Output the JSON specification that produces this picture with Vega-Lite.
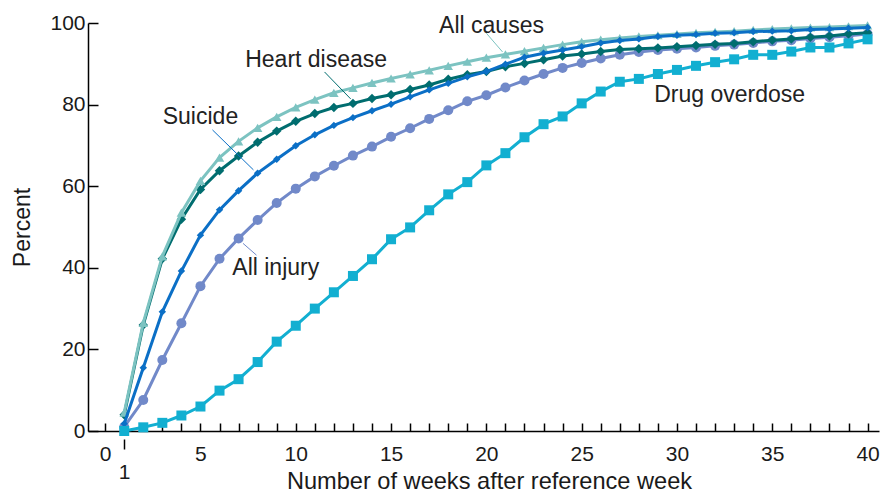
{
"$schema":"https://vega.github.io/schema/vega-lite/v6.json",
"autosize":{"type":"none"},
"padding":{"left":88,"top":23,"right":5,"bottom":64},
"width":791,"height":408,
"background":"white",
"config":{"view":{"stroke":null},"font":"Liberation Sans","axis":{"grid":false,"labelFont":"Liberation Sans","titleFont":"Liberation Sans","labelColor":"#1a1a1a","titleColor":"#1a1a1a","titleFontWeight":"normal","domainColor":"#000000","tickColor":"#000000","domainWidth":1.5,"tickWidth":1.5}},
"datasets":{
"series":[
{"cause":"All causes","week":1,"pct":4.5},{"cause":"All causes","week":2,"pct":26.5},{"cause":"All causes","week":3,"pct":42.8},{"cause":"All causes","week":4,"pct":53.5},{"cause":"All causes","week":5,"pct":61.3},{"cause":"All causes","week":6,"pct":67.0},{"cause":"All causes","week":7,"pct":71.0},{"cause":"All causes","week":8,"pct":74.3},{"cause":"All causes","week":9,"pct":77.0},{"cause":"All causes","week":10,"pct":79.3},{"cause":"All causes","week":11,"pct":81.2},{"cause":"All causes","week":12,"pct":82.9},{"cause":"All causes","week":13,"pct":84.1},{"cause":"All causes","week":14,"pct":85.3},{"cause":"All causes","week":15,"pct":86.4},{"cause":"All causes","week":16,"pct":87.4},{"cause":"All causes","week":17,"pct":88.4},{"cause":"All causes","week":18,"pct":89.5},{"cause":"All causes","week":19,"pct":90.5},{"cause":"All causes","week":20,"pct":91.5},{"cause":"All causes","week":21,"pct":92.3},{"cause":"All causes","week":22,"pct":93.1},{"cause":"All causes","week":23,"pct":93.9},{"cause":"All causes","week":24,"pct":94.7},{"cause":"All causes","week":25,"pct":95.4},{"cause":"All causes","week":26,"pct":95.9},{"cause":"All causes","week":27,"pct":96.3},{"cause":"All causes","week":28,"pct":96.7},{"cause":"All causes","week":29,"pct":97.0},{"cause":"All causes","week":30,"pct":97.3},{"cause":"All causes","week":31,"pct":97.6},{"cause":"All causes","week":32,"pct":97.8},{"cause":"All causes","week":33,"pct":98.0},{"cause":"All causes","week":34,"pct":98.3},{"cause":"All causes","week":35,"pct":98.5},{"cause":"All causes","week":36,"pct":98.7},{"cause":"All causes","week":37,"pct":98.9},{"cause":"All causes","week":38,"pct":99.0},{"cause":"All causes","week":39,"pct":99.2},{"cause":"All causes","week":40,"pct":99.4},
{"cause":"Heart disease","week":1,"pct":4.0},{"cause":"Heart disease","week":2,"pct":26.0},{"cause":"Heart disease","week":3,"pct":42.2},{"cause":"Heart disease","week":4,"pct":51.9},{"cause":"Heart disease","week":5,"pct":59.2},{"cause":"Heart disease","week":6,"pct":63.8},{"cause":"Heart disease","week":7,"pct":67.4},{"cause":"Heart disease","week":8,"pct":70.8},{"cause":"Heart disease","week":9,"pct":73.5},{"cause":"Heart disease","week":10,"pct":75.9},{"cause":"Heart disease","week":11,"pct":77.8},{"cause":"Heart disease","week":12,"pct":79.3},{"cause":"Heart disease","week":13,"pct":80.3},{"cause":"Heart disease","week":14,"pct":81.5},{"cause":"Heart disease","week":15,"pct":82.4},{"cause":"Heart disease","week":16,"pct":83.7},{"cause":"Heart disease","week":17,"pct":84.8},{"cause":"Heart disease","week":18,"pct":86.2},{"cause":"Heart disease","week":19,"pct":87.3},{"cause":"Heart disease","week":20,"pct":88.1},{"cause":"Heart disease","week":21,"pct":89.3},{"cause":"Heart disease","week":22,"pct":90.1},{"cause":"Heart disease","week":23,"pct":91.0},{"cause":"Heart disease","week":24,"pct":91.9},{"cause":"Heart disease","week":25,"pct":92.4},{"cause":"Heart disease","week":26,"pct":93.0},{"cause":"Heart disease","week":27,"pct":93.5},{"cause":"Heart disease","week":28,"pct":93.7},{"cause":"Heart disease","week":29,"pct":93.9},{"cause":"Heart disease","week":30,"pct":94.2},{"cause":"Heart disease","week":31,"pct":94.5},{"cause":"Heart disease","week":32,"pct":94.8},{"cause":"Heart disease","week":33,"pct":95.0},{"cause":"Heart disease","week":34,"pct":95.4},{"cause":"Heart disease","week":35,"pct":95.8},{"cause":"Heart disease","week":36,"pct":96.1},{"cause":"Heart disease","week":37,"pct":96.5},{"cause":"Heart disease","week":38,"pct":96.8},{"cause":"Heart disease","week":39,"pct":97.3},{"cause":"Heart disease","week":40,"pct":97.6},
{"cause":"Suicide","week":1,"pct":1.8},{"cause":"Suicide","week":2,"pct":15.5},{"cause":"Suicide","week":3,"pct":29.2},{"cause":"Suicide","week":4,"pct":39.2},{"cause":"Suicide","week":5,"pct":48.0},{"cause":"Suicide","week":6,"pct":54.2},{"cause":"Suicide","week":7,"pct":58.9},{"cause":"Suicide","week":8,"pct":63.2},{"cause":"Suicide","week":9,"pct":66.6},{"cause":"Suicide","week":10,"pct":69.9},{"cause":"Suicide","week":11,"pct":72.6},{"cause":"Suicide","week":12,"pct":74.9},{"cause":"Suicide","week":13,"pct":76.8},{"cause":"Suicide","week":14,"pct":78.5},{"cause":"Suicide","week":15,"pct":80.1},{"cause":"Suicide","week":16,"pct":81.9},{"cause":"Suicide","week":17,"pct":83.6},{"cause":"Suicide","week":18,"pct":85.2},{"cause":"Suicide","week":19,"pct":86.8},{"cause":"Suicide","week":20,"pct":88.1},{"cause":"Suicide","week":21,"pct":89.9},{"cause":"Suicide","week":22,"pct":91.6},{"cause":"Suicide","week":23,"pct":92.6},{"cause":"Suicide","week":24,"pct":93.4},{"cause":"Suicide","week":25,"pct":94.2},{"cause":"Suicide","week":26,"pct":95.1},{"cause":"Suicide","week":27,"pct":95.7},{"cause":"Suicide","week":28,"pct":96.1},{"cause":"Suicide","week":29,"pct":96.7},{"cause":"Suicide","week":30,"pct":97.0},{"cause":"Suicide","week":31,"pct":97.2},{"cause":"Suicide","week":32,"pct":97.5},{"cause":"Suicide","week":33,"pct":97.6},{"cause":"Suicide","week":34,"pct":97.9},{"cause":"Suicide","week":35,"pct":98.0},{"cause":"Suicide","week":36,"pct":98.1},{"cause":"Suicide","week":37,"pct":98.4},{"cause":"Suicide","week":38,"pct":98.5},{"cause":"Suicide","week":39,"pct":98.7},{"cause":"Suicide","week":40,"pct":98.9},
{"cause":"All injury","week":1,"pct":1.0},{"cause":"All injury","week":2,"pct":7.6},{"cause":"All injury","week":3,"pct":17.4},{"cause":"All injury","week":4,"pct":26.4},{"cause":"All injury","week":5,"pct":35.5},{"cause":"All injury","week":6,"pct":42.2},{"cause":"All injury","week":7,"pct":47.2},{"cause":"All injury","week":8,"pct":51.7},{"cause":"All injury","week":9,"pct":55.9},{"cause":"All injury","week":10,"pct":59.4},{"cause":"All injury","week":11,"pct":62.4},{"cause":"All injury","week":12,"pct":65.0},{"cause":"All injury","week":13,"pct":67.5},{"cause":"All injury","week":14,"pct":69.7},{"cause":"All injury","week":15,"pct":72.1},{"cause":"All injury","week":16,"pct":74.2},{"cause":"All injury","week":17,"pct":76.5},{"cause":"All injury","week":18,"pct":78.6},{"cause":"All injury","week":19,"pct":80.8},{"cause":"All injury","week":20,"pct":82.3},{"cause":"All injury","week":21,"pct":84.2},{"cause":"All injury","week":22,"pct":85.9},{"cause":"All injury","week":23,"pct":87.5},{"cause":"All injury","week":24,"pct":89.0},{"cause":"All injury","week":25,"pct":90.2},{"cause":"All injury","week":26,"pct":91.3},{"cause":"All injury","week":27,"pct":92.2},{"cause":"All injury","week":28,"pct":92.9},{"cause":"All injury","week":29,"pct":93.4},{"cause":"All injury","week":30,"pct":93.7},{"cause":"All injury","week":31,"pct":94.0},{"cause":"All injury","week":32,"pct":94.4},{"cause":"All injury","week":33,"pct":94.7},{"cause":"All injury","week":34,"pct":95.1},{"cause":"All injury","week":35,"pct":95.5},{"cause":"All injury","week":36,"pct":95.8},{"cause":"All injury","week":37,"pct":96.2},{"cause":"All injury","week":38,"pct":96.5},{"cause":"All injury","week":39,"pct":96.9},{"cause":"All injury","week":40,"pct":97.3},
{"cause":"Drug overdose","week":1,"pct":0},{"cause":"Drug overdose","week":2,"pct":0.9},{"cause":"Drug overdose","week":3,"pct":2.0},{"cause":"Drug overdose","week":4,"pct":3.8},{"cause":"Drug overdose","week":5,"pct":6.0},{"cause":"Drug overdose","week":6,"pct":9.9},{"cause":"Drug overdose","week":7,"pct":12.7},{"cause":"Drug overdose","week":8,"pct":16.9},{"cause":"Drug overdose","week":9,"pct":21.9},{"cause":"Drug overdose","week":10,"pct":25.8},{"cause":"Drug overdose","week":11,"pct":30.0},{"cause":"Drug overdose","week":12,"pct":34.0},{"cause":"Drug overdose","week":13,"pct":38.0},{"cause":"Drug overdose","week":14,"pct":42.1},{"cause":"Drug overdose","week":15,"pct":47.0},{"cause":"Drug overdose","week":16,"pct":49.9},{"cause":"Drug overdose","week":17,"pct":54.1},{"cause":"Drug overdose","week":18,"pct":58.0},{"cause":"Drug overdose","week":19,"pct":61.0},{"cause":"Drug overdose","week":20,"pct":65.1},{"cause":"Drug overdose","week":21,"pct":68.1},{"cause":"Drug overdose","week":22,"pct":72.0},{"cause":"Drug overdose","week":23,"pct":75.2},{"cause":"Drug overdose","week":24,"pct":77.1},{"cause":"Drug overdose","week":25,"pct":80.3},{"cause":"Drug overdose","week":26,"pct":83.2},{"cause":"Drug overdose","week":27,"pct":85.6},{"cause":"Drug overdose","week":28,"pct":86.3},{"cause":"Drug overdose","week":29,"pct":87.5},{"cause":"Drug overdose","week":30,"pct":88.5},{"cause":"Drug overdose","week":31,"pct":89.5},{"cause":"Drug overdose","week":32,"pct":90.4},{"cause":"Drug overdose","week":33,"pct":91.1},{"cause":"Drug overdose","week":34,"pct":92.2},{"cause":"Drug overdose","week":35,"pct":92.2},{"cause":"Drug overdose","week":36,"pct":93.0},{"cause":"Drug overdose","week":37,"pct":94.0},{"cause":"Drug overdose","week":38,"pct":94.0},{"cause":"Drug overdose","week":39,"pct":95.0},{"cause":"Drug overdose","week":40,"pct":96.0}
],
"notes":[
{"label":"All causes","week":20.27,"pct":97.5},
{"label":"Heart disease","week":11.07,"pct":89.2},
{"label":"Suicide","week":5.0,"pct":75.2},
{"label":"All injury","week":8.95,"pct":38.2},
{"label":"Drug overdose","week":32.76,"pct":80.7}
],
"leaders":[
{"cause":"All causes","week":20.0,"pct":97.5,"week2":20.85,"pct2":92.9},
{"cause":"Heart disease","week":11.51,"pct":88.0,"week2":12.88,"pct2":81.4},
{"cause":"Suicide","week":5.63,"pct":73.8,"week2":7.78,"pct2":64.0},
{"cause":"All injury","week":7.23,"pct":46.0,"week2":7.94,"pct2":43.1}
],
"one":[{"week":1}]
},
"layer":[
{"data":{"name":"series"},"transform":[{"filter":"datum.cause === 'All injury'"}],
 "mark":{"type":"line","strokeWidth":3,"point":{"shape":"circle","size":100,"filled":true,"opacity":1}},
 "encoding":{
  "x":{"field":"week","type":"quantitative","scale":{"domain":[-0.9,40.6],"nice":false,"zero":false},
   "axis":{"values":[0,1,2,3,4,5,6,7,8,9,10,11,12,13,14,15,16,17,18,19,20,21,22,23,24,25,26,27,28,29,30,31,32,33,34,35,36,37,38,39,40],"orient":"bottom",
    "tickSize":-8,
    "labelExpr":"datum.value % 5 === 0 ? datum.label : ''","labelOverlap":false,"labelFlush":false,"labelFontSize":21,"labelPadding":20,
    "title":"Number of weeks after reference week","titleFontSize":23.6,"titlePadding":5,"titleX":401}},
  "y":{"field":"pct","type":"quantitative","scale":{"domain":[0,100],"nice":false,"zero":false},
   "axis":{"values":[0,20,40,60,80,100],"orient":"left","tickSize":-10,"labelFontSize":21,"labelPadding":13,"title":"Percent","titleFontSize":23,"titlePadding":15}},
  "color":{"field":"cause","type":"nominal","scale":{"domain":["All causes","Heart disease","Suicide","All injury","Drug overdose"],"range":["#7cc3c1","#006d6f","#0b6fc6","#7189c9","#12afd1"]},"legend":null}}},
{"data":{"name":"one"},"mark":{"type":"point","opacity":0},
 "encoding":{"x":{"field":"week","type":"quantitative","axis":{"values":[1],"orient":"bottom","offset":8,"domain":false,"tickSize":10,"labelFontSize":21,"labelPadding":12,"labelFlush":false,"title":null}},"y":{"datum":50,"type":"quantitative","axis":null}}},
{"data":{"name":"series"},"transform":[{"filter":"datum.cause === 'Heart disease'"}],
 "mark":{"type":"line","strokeWidth":3,"point":{"shape":"diamond","size":90,"filled":true,"opacity":1}},
 "encoding":{"x":{"field":"week","type":"quantitative","axis":null},"y":{"field":"pct","type":"quantitative","axis":null},"color":{"field":"cause","type":"nominal","legend":null}}},
{"data":{"name":"series"},"transform":[{"filter":"datum.cause === 'All causes'"}],
 "mark":{"type":"line","strokeWidth":3,"point":{"shape":"triangle-up","size":90,"filled":true,"opacity":1}},
 "encoding":{"x":{"field":"week","type":"quantitative","axis":null},"y":{"field":"pct","type":"quantitative","axis":null},"color":{"field":"cause","type":"nominal","legend":null}}},
{"data":{"name":"series"},"transform":[{"filter":"datum.cause === 'Suicide'"}],
 "mark":{"type":"line","strokeWidth":3,"point":{"shape":"diamond","size":55,"filled":true,"opacity":1}},
 "encoding":{"x":{"field":"week","type":"quantitative","axis":null},"y":{"field":"pct","type":"quantitative","axis":null},"color":{"field":"cause","type":"nominal","legend":null}}},
{"data":{"name":"series"},"transform":[{"filter":"datum.cause === 'Drug overdose'"}],
 "mark":{"type":"line","strokeWidth":3,"point":{"shape":"square","size":100,"filled":true,"opacity":1}},
 "encoding":{"x":{"field":"week","type":"quantitative","axis":null},"y":{"field":"pct","type":"quantitative","axis":null},"color":{"field":"cause","type":"nominal","legend":null}}},
{"data":{"name":"leaders"},"mark":{"type":"rule","strokeWidth":1},
 "encoding":{"x":{"field":"week","type":"quantitative","axis":null},"y":{"field":"pct","type":"quantitative","axis":null},"x2":{"field":"week2"},"y2":{"field":"pct2"},"color":{"field":"cause","type":"nominal","legend":null}}},
{"data":{"name":"notes"},"mark":{"type":"text","fontSize":23,"font":"Liberation Sans","color":"#222222","align":"center","baseline":"alphabetic"},
 "encoding":{"x":{"field":"week","type":"quantitative","axis":null},"y":{"field":"pct","type":"quantitative","axis":null},"text":{"field":"label"}}}
],
"resolve":{"axis":{"x":"independent","y":"independent"}}
}
